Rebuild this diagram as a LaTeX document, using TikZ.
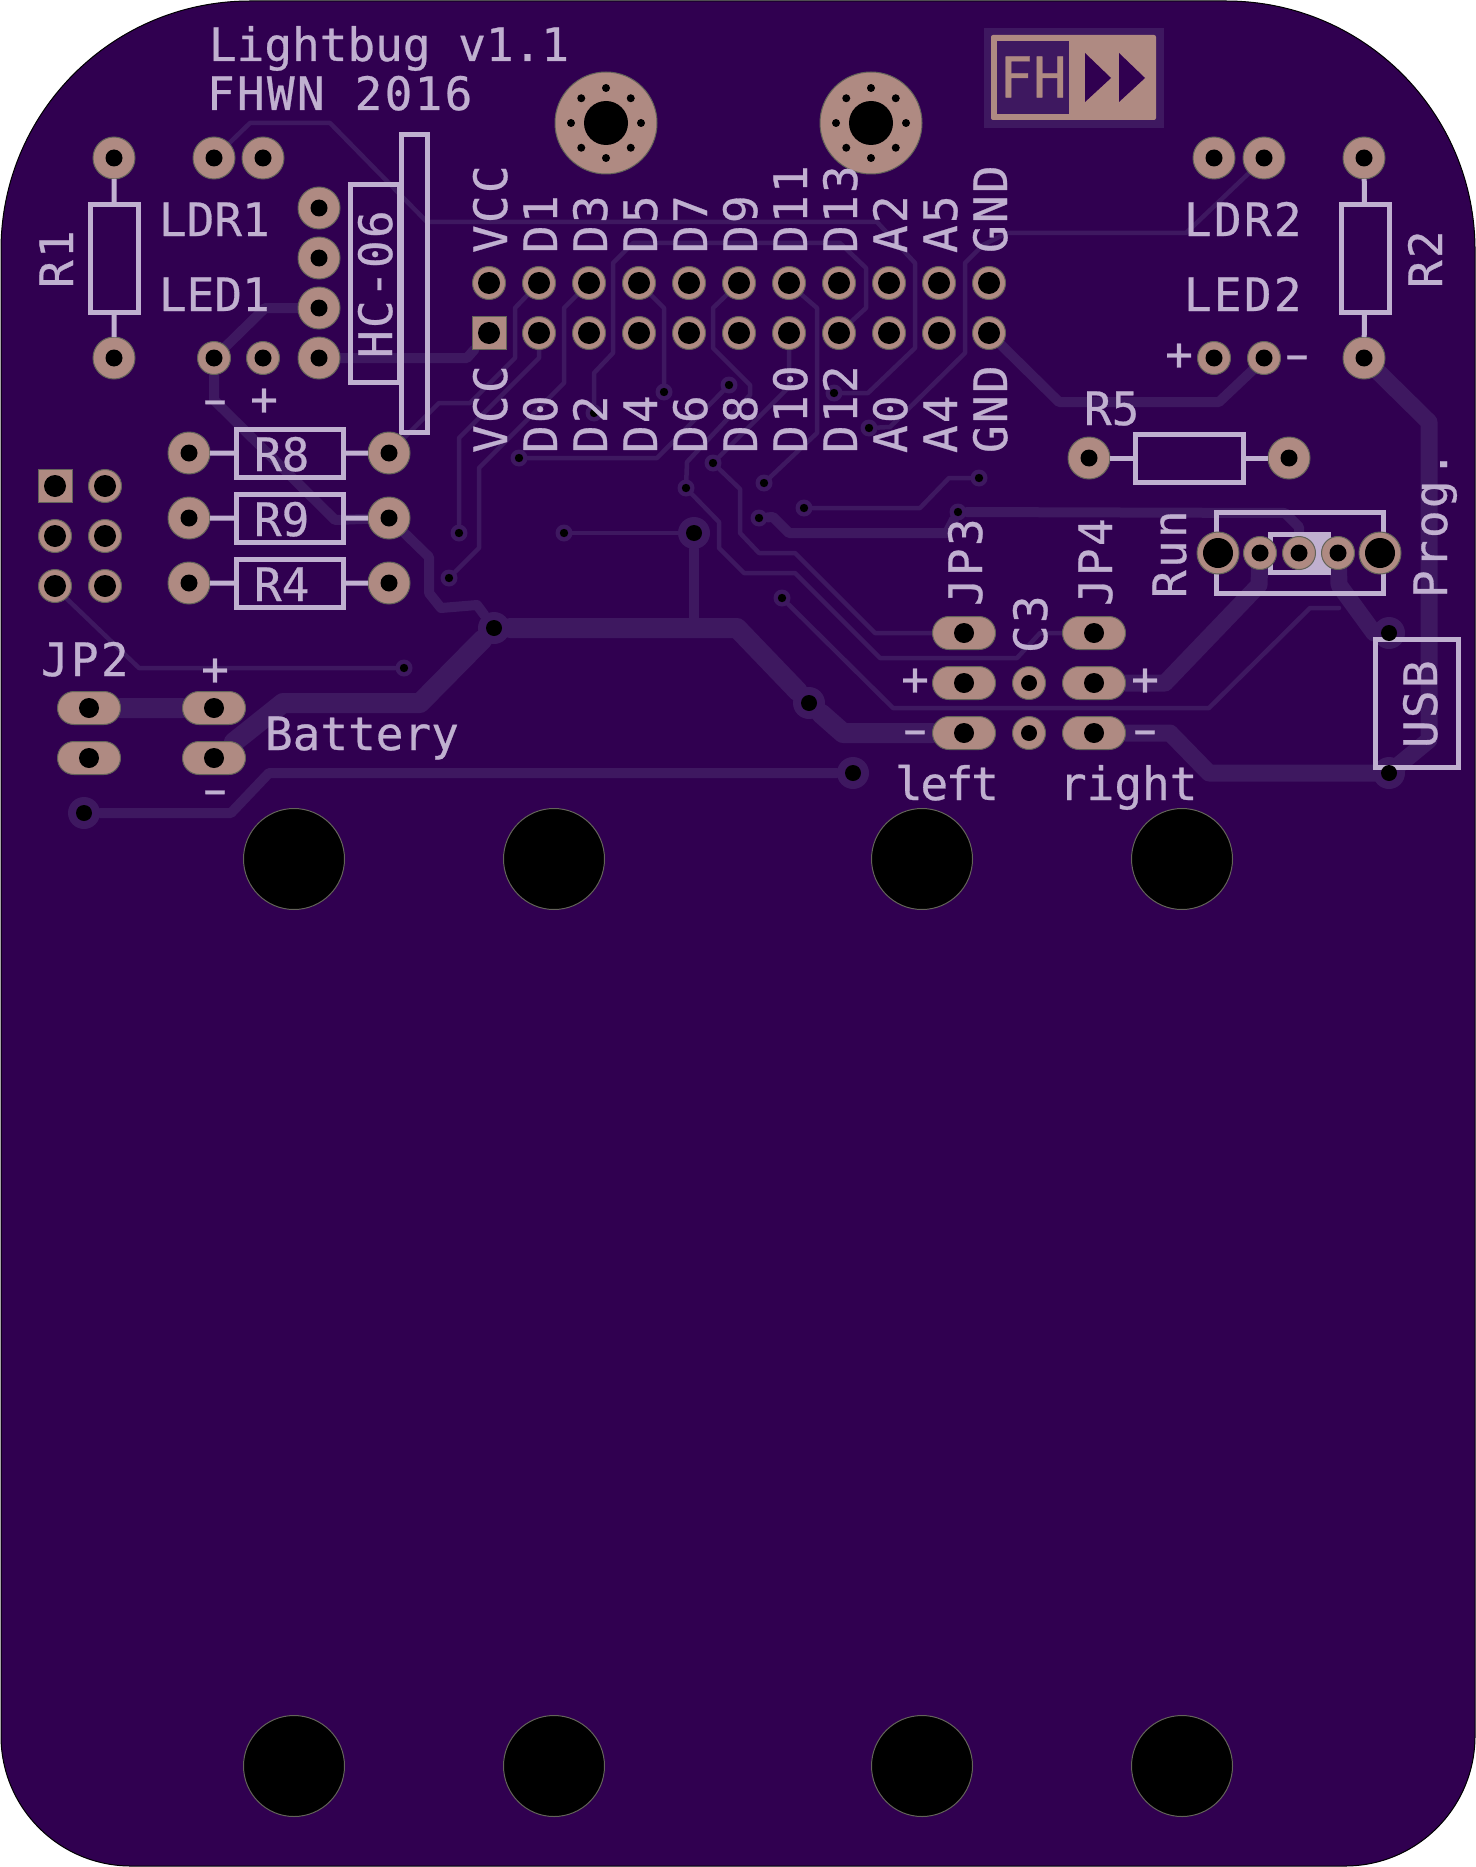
\documentclass[tikz,border=0pt]{standalone}
\usepackage{fontspec}
\usepackage{tikz}
\usetikzlibrary{backgrounds,shapes.misc}
\newfontfamily\silkfont[FakeBold=0.6]{DejaVu Sans Mono}
\newfontfamily\silkwide[FakeBold=0.6,LetterSpace=5]{DejaVu Sans Mono}
\newfontfamily\silknarrow[FakeBold=0.6,LetterSpace=-5]{DejaVu Sans Mono}
\newcommand{\silkminus}{\scalebox{1.6}[1]{-}}
\definecolor{c_board}{rgb}{0.188, 0.0, 0.314}
\definecolor{c_trace}{rgb}{0.243, 0.094, 0.376}
\definecolor{c_pad}{rgb}{0.686, 0.541, 0.51}
\definecolor{c_edge}{rgb}{0.39, 0.39, 0.35}
\definecolor{c_silk}{rgb}{0.753, 0.69, 0.816}
\tikzset{c-hole/.style={path picture={\fill[black] (path picture bounding box.center) circle (#1);}},
c-pad/.style={circle, draw=c_edge, line width=0.5pt, fill=c_pad, inner sep=0pt, outer sep=0pt, minimum size=21pt, c-hole=4.25pt},
c-pin/.style={c-pad, minimum size=16.5pt, c-hole=5.5pt},
c-led/.style={c-pad, minimum size=16.5pt, c-hole=4.25pt},
c-square/.style={rectangle, draw=c_edge, line width=0.5pt, fill=c_pad, inner sep=0pt, outer sep=0pt, minimum width=17pt, minimum height=16.5pt, c-hole=5.5pt},
c-long/.style={rounded rectangle, draw=c_edge, line width=0.5pt, fill=c_pad, inner sep=0pt, outer sep=0pt, minimum width=31.5pt, minimum height=16.5pt, c-hole=5pt},
c-mount/.style={circle, draw=c_edge, line width=0.5pt, fill=c_pad, inner sep=0pt, outer sep=0pt, minimum size=51pt, path picture={
\fill[black] (path picture bounding box.center) circle (11pt);
\foreach \a in {0,45,...,315} {\fill[black] (path picture bounding box.center) ++(\a:17.5pt) circle (2pt);}
}},
c-drill/.style={circle, draw=c_edge, line width=0.5pt, fill=black, inner sep=0pt, minimum size=50.5pt},
c-via/.style={circle, fill=c_trace, inner sep=0pt, outer sep=0pt, minimum size=8.5pt, c-hole=2.1pt},
c-viab/.style={circle, fill=c_trace, inner sep=0pt, outer sep=0pt, minimum size=16pt, c-hole=4pt},
c-dot/.style={circle, fill=black, inner sep=0pt, outer sep=0pt, minimum size=8pt},
c-body/.style={rectangle, draw=c_silk, line width=2.5pt, inner sep=0pt, outer sep=0pt},
c-silk/.style={draw=c_silk, line width=2.5pt},
c-text/.style={text=c_silk, inner sep=0pt, outer sep=0pt, font=\silkfont\fontsize{23}{23}\selectfont, anchor=base west},
c-wtext/.style={c-text, font=\silkwide\fontsize{23}{23}\selectfont},
c-ntext/.style={c-text, font=\silknarrow\fontsize{23}{23}\selectfont},
c-vtext/.style={c-wtext, rotate=90},
c-sign/.style={c-text, anchor=center, text height=12pt, text depth=0pt},
c-trace/.style={draw=c_trace, line width=2.25pt, line cap=round, line join=round},
c-trace2/.style={draw=c_trace, line width=5pt, line cap=round, line join=round},
c-trace3/.style={draw=c_trace, line width=8.5pt, line cap=round, line join=round},
c-trace4/.style={draw=c_trace, line width=10pt, line cap=round, line join=round}}

\begin{document}
\begin{tikzpicture}[x=0.5pt, y=-0.5pt]
\useasboundingbox (0,0) rectangle (1476,1867);

\node (b1) [c-body, minimum width=24pt, minimum height=54pt] at (114.5,258.5) {};
\node (b2) [c-body, minimum width=24pt, minimum height=54pt] at (1365,258.5) {};
\node (b8) [c-body, minimum width=53.5pt, minimum height=24pt] at (290,453.5) {};
\node (b9) [c-body, minimum width=53.5pt, minimum height=24pt] at (290,518.5) {};
\node (b4) [c-body, minimum width=53.5pt, minimum height=24pt] at (290,583.5) {};
\node (b5) [c-body, minimum width=54pt, minimum height=24pt] at (1189.5,458) {};
\node (hca) [c-body, minimum width=24.5pt, minimum height=99pt] at (374.5,283.5) {};
\node (hcb) [c-body, minimum width=13pt, minimum height=149pt] at (414.5,283.5) {};
\node (sw) [c-body, minimum width=83.5pt, minimum height=40.5pt] at (1300,553) {};
\node (swa) [c-body, minimum width=29pt, minimum height=19pt] at (1299,553.5) {};
\fill [c_silk] (1299,532) rectangle (1330,575);
\node (usb) [c-body, minimum width=41.5pt, minimum height=64pt] at (1417,703.5) {};

\node (m1) [c-mount] at (606,123) {};
\node (m2) [c-mount] at (871,123) {};
\fill [c_trace] (984,28) rectangle (1164,128);
\fill [c_pad, rounded corners=1pt] (991,35) rectangle (1156,120);
\fill [c_trace] (997,41) rectangle (1069,114);
\fill [c_board] (1085,53) -- (1111,78) -- (1085,102) -- cycle;
\fill [c_board] (1119,53) -- (1145,78) -- (1119,102) -- cycle;
\node (logo) [text=c_pad, inner sep=0pt, font=\silkfont\fontsize{28}{28}\selectfont] at (1033,77) {FH};

\node (r1a) [c-pad] at (114,158) {};
\node (r1b) [c-pad] at (114,358) {};
\node (r2a) [c-pad] at (1364,158) {};
\node (r2b) [c-pad] at (1364,358) {};
\node (ldr1a) [c-pad] at (214,158) {};
\node (ldr1b) [c-pad] at (263,158) {};
\node (ldr2a) [c-pad] at (1214,158) {};
\node (ldr2b) [c-pad] at (1264,158) {};
\node (led1a) [c-led] at (214,358) {};
\node (led1b) [c-led] at (263,358) {};
\node (led2a) [c-led] at (1214,358) {};
\node (led2b) [c-led] at (1264,358) {};
\node (hc1) [c-pad] at (319,208) {};
\node (hc2) [c-pad] at (319,258) {};
\node (hc3) [c-pad] at (319,308) {};
\node (hc4) [c-pad] at (319,358) {};
\node (r8a) [c-pad] at (189,453) {};
\node (r8b) [c-pad] at (389,453) {};
\node (r9a) [c-pad] at (189,518) {};
\node (r9b) [c-pad] at (389,518) {};
\node (r4a) [c-pad] at (189,583) {};
\node (r4b) [c-pad] at (389,583) {};
\node (r5a) [c-pad] at (1089,458) {};
\node (r5b) [c-pad] at (1289,458) {};
\foreach \i in {0,...,10} {
\node (u\i) [c-pin] at ({489+50*\i},283) {};
}
\node (l0) [c-square] at (489,333) {};
\foreach \i in {1,...,10} {
\node (l\i) [c-pin] at ({489+50*\i},333) {};
}
\node (isp1) [c-square] at (55,486) {};
\node (isp2) [c-pin] at (105,486) {};
\node (isp3) [c-pin] at (55,536) {};
\node (isp4) [c-pin] at (105,536) {};
\node (isp5) [c-pin] at (55,586) {};
\node (isp6) [c-pin] at (105,586) {};
\node (jp2a) [c-long] at (89,708) {};
\node (jp2b) [c-long] at (214,708) {};
\node (jp2c) [c-long] at (89,758) {};
\node (jp2d) [c-long] at (214,758) {};
\node (jp3a) [c-long] at (964,633) {};
\node (jp3b) [c-long] at (964,683) {};
\node (jp3c) [c-long] at (964,733) {};
\node (jp4a) [c-long] at (1094,633) {};
\node (jp4b) [c-long] at (1094,683) {};
\node (jp4c) [c-long] at (1094,733) {};
\node (c3a) [c-led, c-hole=4pt] at (1029,683) {};
\node (c3b) [c-led, c-hole=4pt] at (1029,733) {};
\node (sw1) [c-pad, c-hole=7.5pt] at (1218,553) {};
\node (sw2) [c-led] at (1260,553) {};
\node (sw3) [c-led] at (1299,553) {};
\node (sw4) [c-led] at (1338,553) {};
\node (sw5) [c-pad, c-hole=7.5pt] at (1380,553) {};
\node (d1) [c-drill] at (294,859) {};
\node (d2) [c-drill] at (554,859) {};
\node (d3) [c-drill] at (922,859) {};
\node (d4) [c-drill] at (1182,859) {};
\node (d5) [c-drill] at (294,1766) {};
\node (d6) [c-drill] at (554,1766) {};
\node (d7) [c-drill] at (922,1766) {};
\node (d8) [c-drill] at (1182,1766) {};

\node (v1) [c-via] at (834,393) {};
\node (v2) [c-via] at (594,413) {};
\node (v3) [c-via] at (459,533) {};
\node (v4) [c-via] at (449,578) {};
\node (v5) [c-via] at (664,392) {};
\node (v6) [c-via] at (519,458) {};
\node (v7) [c-via] at (729,385) {};
\node (v8) [c-via] at (686,488) {};
\node (v9) [c-via] at (713,463) {};
\node (v10) [c-via] at (782,598) {};
\node (v11) [c-via] at (804,508) {};
\node (v12) [c-via] at (979,478) {};
\node (v13) [c-via] at (764,483) {};
\node (v14) [c-via] at (869,428) {};
\node (v15) [c-via] at (404,668) {};
\node (v16) [c-via] at (564,533) {};
\node (v17) [c-via] at (759,518) {};
\node (v18) [c-via] at (958,512) {};
\node (vb1) [c-viab] at (494,628) {};
\node (vb2) [c-viab] at (694,533) {};
\node (vb3) [c-viab] at (809,703) {};
\node (vb4) [c-viab] at (84,813) {};
\node (vb5) [c-viab] at (853,773) {};
\node (vu1) [c-dot] at (1389,633) {};
\node (vu2) [c-dot] at (1389,773) {};

\draw [c-silk] (r1a) -- (b1);
\draw [c-silk] (r1b) -- (b1);
\draw [c-silk] (r2a) -- (b2);
\draw [c-silk] (r2b) -- (b2);
\draw [c-silk] (r8a) -- (b8);
\draw [c-silk] (r8b) -- (b8);
\draw [c-silk] (r9a) -- (b9);
\draw [c-silk] (r9b) -- (b9);
\draw [c-silk] (r4a) -- (b4);
\draw [c-silk] (r4b) -- (b4);
\draw [c-silk] (r5a) -- (b5);
\draw [c-silk] (r5b) -- (b5);

\node (t1) [c-text] at (209,61) {Lightbug v1.1};
\node (t2) [c-wtext] at (207,110) {FHWN 2016};
\node (t3) [c-text] at (159,236) {LDR1};
\node (t4) [c-text] at (159,311) {LED1};
\node (t5) [c-wtext] at (1184,236) {LDR2};
\node (t6) [c-wtext] at (1184,311) {LED2};
\node (t7) [c-text] at (1084,425) {R5};
\node (t8) [c-text] at (254,471) {R8};
\node (t9) [c-text] at (254,536) {R9};
\node (t10) [c-text] at (254,601) {R4};
\node (t11) [c-wtext] at (41,676) {JP2};
\node (t12) [c-text] at (265,750) {Battery};
\node (t13) [c-ntext] at (895,800) {left};
\node (t14) [c-text] at (1059,800) {right};
\node (t15) [c-vtext] at (73,288) {R1};
\node (t16) [c-vtext] at (1442,288) {R2};
\node (t17) [c-vtext] at (392,358) {HC-06};
\node (t18) [c-vtext] at (982,606) {JP3};
\node (t19) [c-vtext] at (1112,606) {JP4};
\node (t20) [c-vtext] at (1047,653) {C3};
\node (t21) [c-vtext] at (1186,598) {Run};
\node (t22) [c-vtext] at (1447,598) {Prog.};
\node (t23) [c-vtext] at (1437,748) {USB};
\foreach \lab [count=\i from 0] in {VCC,D1,D3,D5,D7,D9,D11,D13,A2,A5,GND} {
\node (tu\i) [c-vtext] at ({507+50*\i},253) {\lab};
}
\foreach \lab [count=\i from 0] in {VCC,D0,D2,D4,D6,D8,D10,D12,A0,A4,GND} {
\node (tl\i) [c-vtext] at ({507+50*\i},453) {\lab};
}
\node (s1) [c-sign] at (215,403) {\silkminus};
\node (s2) [c-sign] at (264,403) {+};
\node (s3) [c-sign] at (1179,358) {+};
\node (s4) [c-sign] at (1297,358) {\silkminus};
\node (s5) [c-sign] at (215,673) {+};
\node (s6) [c-sign] at (215,793) {\silkminus};
\node (s7) [c-sign] at (915,683) {+};
\node (s8) [c-sign] at (1145,683) {+};
\node (s9) [c-sign] at (915,733) {\silkminus};
\node (s10) [c-sign] at (1145,733) {\silkminus};

\begin{scope}[on background layer]
\draw [fill=c_board, draw=black, line width=0.5pt] (250,1) -- (1226,1) arc[start angle=-90, end angle=0, radius=249] -- (1475,1736) arc[start angle=0, end angle=90, radius=130] -- (131,1866) arc[start angle=90, end angle=180, radius=130] -- (1,250) arc[start angle=180, end angle=270, radius=249] -- cycle;
\draw [c-trace] (ldr1a) -- (250,123) -- (330,123) -- (427,222) -- (877,222) -- (915,263) -- (915,348) -- (868,393) -- (v1);
\draw [c-trace] (l7) -- (866,308) -- (866,268) -- (840,243) -- (633,243) -- (613,263) -- (613,353) -- (594,373) -- (v2);
\draw [c-trace] (u1) -- (515,308) -- (515,358) -- (470,403) -- (439,403) -- (r8b);
\draw [c-trace] (l1) -- (539,358) -- (459,438) -- (v3);
\draw [c-trace] (u2) -- (564,308) -- (564,383) -- (479,468) -- (479,548) -- (v4);
\draw [c-trace] (u3) -- (664,308) -- (v5);
\draw [c-trace] (v6) -- (657,458) -- (v7);
\draw [c-trace] (u5) -- (713,308) -- (713,348) -- (750,385) -- (750,395) -- (687,462) -- (v8);
\draw [c-trace] (l6) -- (789,387) -- (v9);
\draw [c-trace] (v9) -- (740,489) -- (740,533) -- (759,553) -- (795,553) -- (875,633) -- (jp3a);
\draw [c-trace] (v8) -- (719,522) -- (719,548) -- (744,573) -- (795,573) -- (880,658) -- (1017,658) -- (1040,633) -- (jp4a);
\draw [c-trace] (v10) -- (893,708) -- (1209,708) -- (1310,608) -- (1339,608);
\draw [c-trace] (v11) -- (920,508) -- (949,478) -- (v12);
\draw [c-trace] (v13) -- (817,433) -- (817,308) -- (802,295) -- (u6);
\draw [c-trace] (v14) -- (890,427) -- (965,353) -- (965,263) -- (983,245) -- (1007,233) -- (1186,233) -- (1249,173) -- (ldr2b);
\draw [c-trace] (isp5) -- (66,598) -- (139,668) -- (v15);
\draw [c-trace] (v16) -- (vb2);
\draw [c-trace2] (hc3) -- (265,308) -- (led1a);
\draw [c-trace2] (hc4) -- (467,358) -- (l0);
\draw [c-trace2] (led1a) -- (214,400) -- (335,520) -- (r9b);
\draw [c-trace2] (vb1) -- (477,605) -- (441,608) -- (429,593) -- (429,557) -- (r9b);
\draw [c-trace2] (vb2) -- (694,628);
\draw [c-trace2] (v17) -- (773,517) -- (789,533) -- (947,533) -- (v18);
\draw [c-trace2] (v18) -- (1285,513) -- (1299,527) -- (sw3);
\draw [c-trace2] (l10) -- (1059,402) -- (1219,402) -- (1256,367) -- (led2b);
\draw [c-trace2] (vb4) -- (231,813) -- (269,773) -- (vb5);
\draw [c-trace3] (r2b) -- (1429,422) -- (1429,740) -- (vu2);
\draw [c-trace3] (sw4) -- (1339,585) -- (1374,633) -- (vu1);
\draw [c-trace3] (jp4b) -- (1165,683) -- (1259,585) -- (sw2);
\draw [c-trace3] (jp4c) -- (1170,733) -- (1209,773) -- (vu2);
\draw [c-trace4] (jp2a) -- (jp2b);
\draw [c-trace4] (vb1) -- (737,628) -- (vb3) -- (843,733) -- (jp3c);
\draw [c-trace4] (vb1) -- (420,703) -- (283,703) -- (jp2d);
\fill [c_trace] (vu1.center) circle (8pt);
\fill [c_trace] (vu2.center) circle (8pt);
\end{scope}
\end{tikzpicture}
\end{document}
